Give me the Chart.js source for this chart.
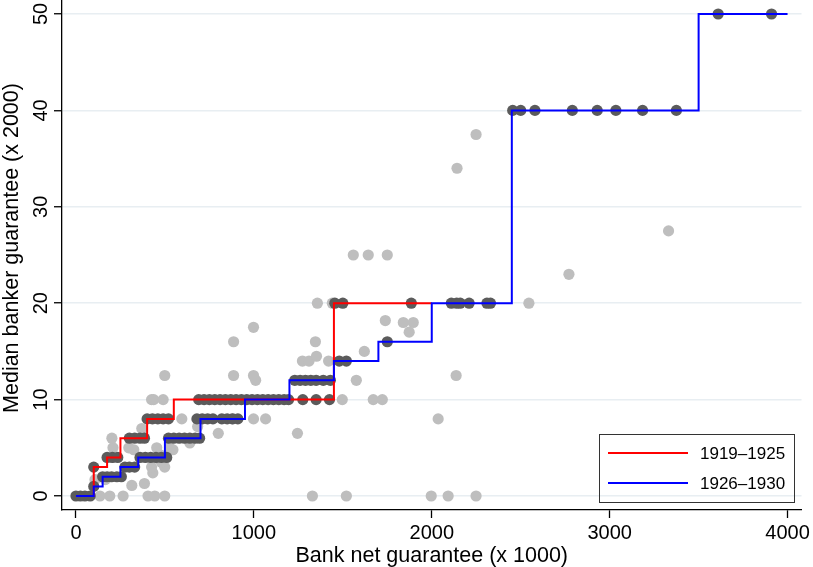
<!DOCTYPE html>
<html>
<head>
<meta charset="utf-8">
<script src="https://cdn.jsdelivr.net/npm/chart.js@4.4.1/dist/chart.umd.min.js"></script>
<style>
  html, body { margin: 0; padding: 0; background: #fff; }
</style>
</head>
<body>
<canvas id="chart" width="813" height="567"></canvas>
<script>
// axis ticks and titles
const xTicks = [0, 1000, 2000, 3000, 4000];
const yTicks = [0, 10, 20, 30, 40, 50];
const xTitle = 'Bank net guarantee (x 1000)';
const yTitle = 'Median banker guarantee (x 2000)';
const periods = ['1919\u20131925', '1926\u20131930'];

// step lines (x where the level starts, level)
const redStepX = [0, 100, 175, 250, 400, 550, 1450, 2000];
const redStepY = [0, 3, 4, 6, 8, 10, 20, 20];
const blueStepX = [0, 100, 150, 250, 350, 500, 700, 950, 1200, 1450, 1700, 2000, 2450, 3500, 4000];
const blueStepY = [0, 1, 2, 3, 4, 6, 8, 10, 12, 14, 16, 20, 40, 50, 50];

// dark grey points (on the steps)
const darkX = [0, 25, 50, 80, 100, 100,
  150, 175, 200, 230, 255, 275, 300, 330,
  175, 205, 235, 360, 390, 420, 450, 480, 510,
  300, 330, 360, 385, 520, 550, 580, 610, 640, 670, 695,
  400, 430, 460, 490, 520, 680, 710, 740, 770, 820, 850, 880, 910,
  690, 720, 750, 780, 810, 840, 870, 900, 930, 960, 990, 1020, 1050, 1080, 1110, 1140, 1170, 1195, 1275, 1350, 1425,
  1230, 1260, 1290, 1320, 1350, 1390, 1430,
  1480, 1520, 1750,
  1455, 1500, 1885, 2110, 2140, 2160, 2210, 2310, 2330,
  2455, 2500, 2580, 2790, 2930, 3035, 3185, 3375,
  3610, 3910];
const darkY = [0, 0, 0, 0, 1, 3,
  2, 2, 2, 2, 2, 3, 3, 3,
  4, 4, 4, 4, 4, 4, 4, 4, 4,
  6, 6, 6, 6, 6, 6, 6, 6, 6, 6, 6,
  8, 8, 8, 8, 8, 8, 8, 8, 8, 8, 8, 8, 8,
  10, 10, 10, 10, 10, 10, 10, 10, 10, 10, 10, 10, 10, 10, 10, 10, 10, 10, 10, 10, 10,
  12, 12, 12, 12, 12, 12, 12,
  14, 14, 16,
  20, 20, 20, 20, 20, 20, 20, 20, 20,
  40, 40, 40, 40, 40, 40, 40, 40,
  50, 50];

// light grey points (individual observations)
const lightX = [135, 190, 265, 405, 443, 499, 1329, 1520, 1997, 2092, 2249,
  107, 165, 314, 385, 432, 425, 499, 480, 471, 454, 527, 202, 208, 202, 297, 325,
  370, 425, 437, 490, 499, 545, 595, 640, 684, 800, 880, 998, 1066,
  886, 886, 998, 998, 1010, 1245, 1273, 1310, 1352, 1346, 1357, 1441, 1420,
  1497, 1576, 1621, 1671, 1722, 1739, 1840, 1896, 1873, 1559, 1643, 1750,
  2036, 2137, 2142, 2249, 2546, 2771, 3331];
const lightY = [0, 0, 0, 0, 0, 0, 0, 0, 0, 0, 0,
  1.7, 1.7, 1.1, 1.3, 2.4, 3, 3, 3.5, 4.3, 5, 5, 4, 5, 6, 5, 4.8,
  7, 10, 10, 10, 12.5, 4.8, 8, 5.5, 7.2, 6.5, 8, 8, 8,
  16, 12.5, 17.5, 12.5, 12, 6.5, 14, 14, 14.5, 16, 20, 20, 14,
  10, 12, 15, 10, 10, 18.2, 18, 18, 17, 25, 25, 25,
  8, 12.5, 34, 37.5, 20, 23, 27.5];

const pts = (xs, ys) => xs.map((x, i) => ({ x: x, y: ys[i] }));
const FONT = '"Liberation Sans", Arial, Helvetica, sans-serif';

// rotated y labels, axis titles and the legend box
const extras = {
    id: 'extras',
    afterDraw(chart) {
        const ctx = chart.ctx;
        const xs = chart.scales.x, ys = chart.scales.y;
        ctx.save();
        ctx.fillStyle = '#000';
        ctx.textAlign = 'center';
        ctx.textBaseline = 'alphabetic';
        ctx.font = '20px ' + FONT;
        yTicks.forEach(v => {
            ctx.save();
            ctx.translate(47, ys.getPixelForValue(v));
            ctx.rotate(-Math.PI / 2);
            ctx.fillText(String(v), 0, 0);
            ctx.restore();
        });
        ctx.font = '21.5px ' + FONT;
        ctx.save();
        ctx.translate(18, 248);
        ctx.rotate(-Math.PI / 2);
        ctx.fillText(yTitle, 0, 0);
        ctx.restore();
        ctx.fillText(xTitle, (xs.left + xs.right) / 2, 562);

        // legend
        ctx.strokeStyle = '#333';
        ctx.lineWidth = 1;
        ctx.strokeRect(599.5, 434.5, 195, 68);
        const cols = ['#ff0000', '#0000ff'];
        ctx.font = '17px ' + FONT;
        ctx.textAlign = 'left';
        periods.forEach((p, i) => {
            const yy = 453 + i * 30;
            ctx.strokeStyle = cols[i];
            ctx.lineWidth = 2;
            ctx.beginPath();
            ctx.moveTo(608, yy);
            ctx.lineTo(688, yy);
            ctx.stroke();
            ctx.fillText(p, 700, yy + 6);
        });
        ctx.restore();
    }
};

new Chart(document.getElementById('chart'), {
    type: 'scatter',
    data: {
        datasets: [
            {
                label: periods[1],
                data: pts(blueStepX, blueStepY),
                showLine: true,
                stepped: true,
                borderColor: '#0000ff',
                borderWidth: 2,
                pointRadius: 0,
                fill: false,
                order: 0
            },
            {
                label: periods[0],
                data: pts(redStepX, redStepY),
                showLine: true,
                stepped: true,
                borderColor: '#ff0000',
                borderWidth: 2,
                pointRadius: 0,
                fill: false,
                order: 1
            },
            {
                label: 'median',
                data: pts(darkX, darkY),
                backgroundColor: '#5b5b5b',
                borderWidth: 0,
                pointRadius: 5.6,
                order: 2
            },
            {
                label: 'obs',
                data: pts(lightX, lightY),
                backgroundColor: '#bebebe',
                borderWidth: 0,
                pointRadius: 5.6,
                order: 3
            }
        ]
    },
    options: {
        responsive: false,
        devicePixelRatio: 1,
        animation: false,
        layout: { autoPadding: false, padding: { top: 0, right: 10, bottom: 0, left: 0 } },
        plugins: {
            legend: { display: false },
            tooltip: { enabled: false }
        },
        scales: {
            x: {
                type: 'linear',
                position: 'bottom',
                min: -78.5,
                max: 4078.5,
                afterBuildTicks: s => { s.ticks = xTicks.map(v => ({ value: v })); },
                afterFit: s => { s.height = 57; },
                grid: { display: true, drawOnChartArea: false, tickLength: 8, tickColor: '#000', tickWidth: 1.3 },
                border: { display: true, color: '#000', width: 1.3 },
                ticks: {
                    color: '#000', padding: 3, maxRotation: 0,
                    font: { family: FONT, size: 20 },
                    callback: v => String(v)
                }
            },
            y: {
                type: 'linear',
                position: 'left',
                min: -1.45,
                max: 51.45,
                afterBuildTicks: s => { s.ticks = yTicks.map(v => ({ value: v })); },
                afterFit: s => { s.width = 62; },
                grid: { display: true, color: '#e8eef2', lineWidth: 1.5, tickLength: 8, tickColor: '#000', tickWidth: 1.3 },
                border: { display: true, color: '#000', width: 1.3 },
                ticks: { display: false }
            }
        }
    },
    plugins: [extras]
});
</script>
</body>
</html>
